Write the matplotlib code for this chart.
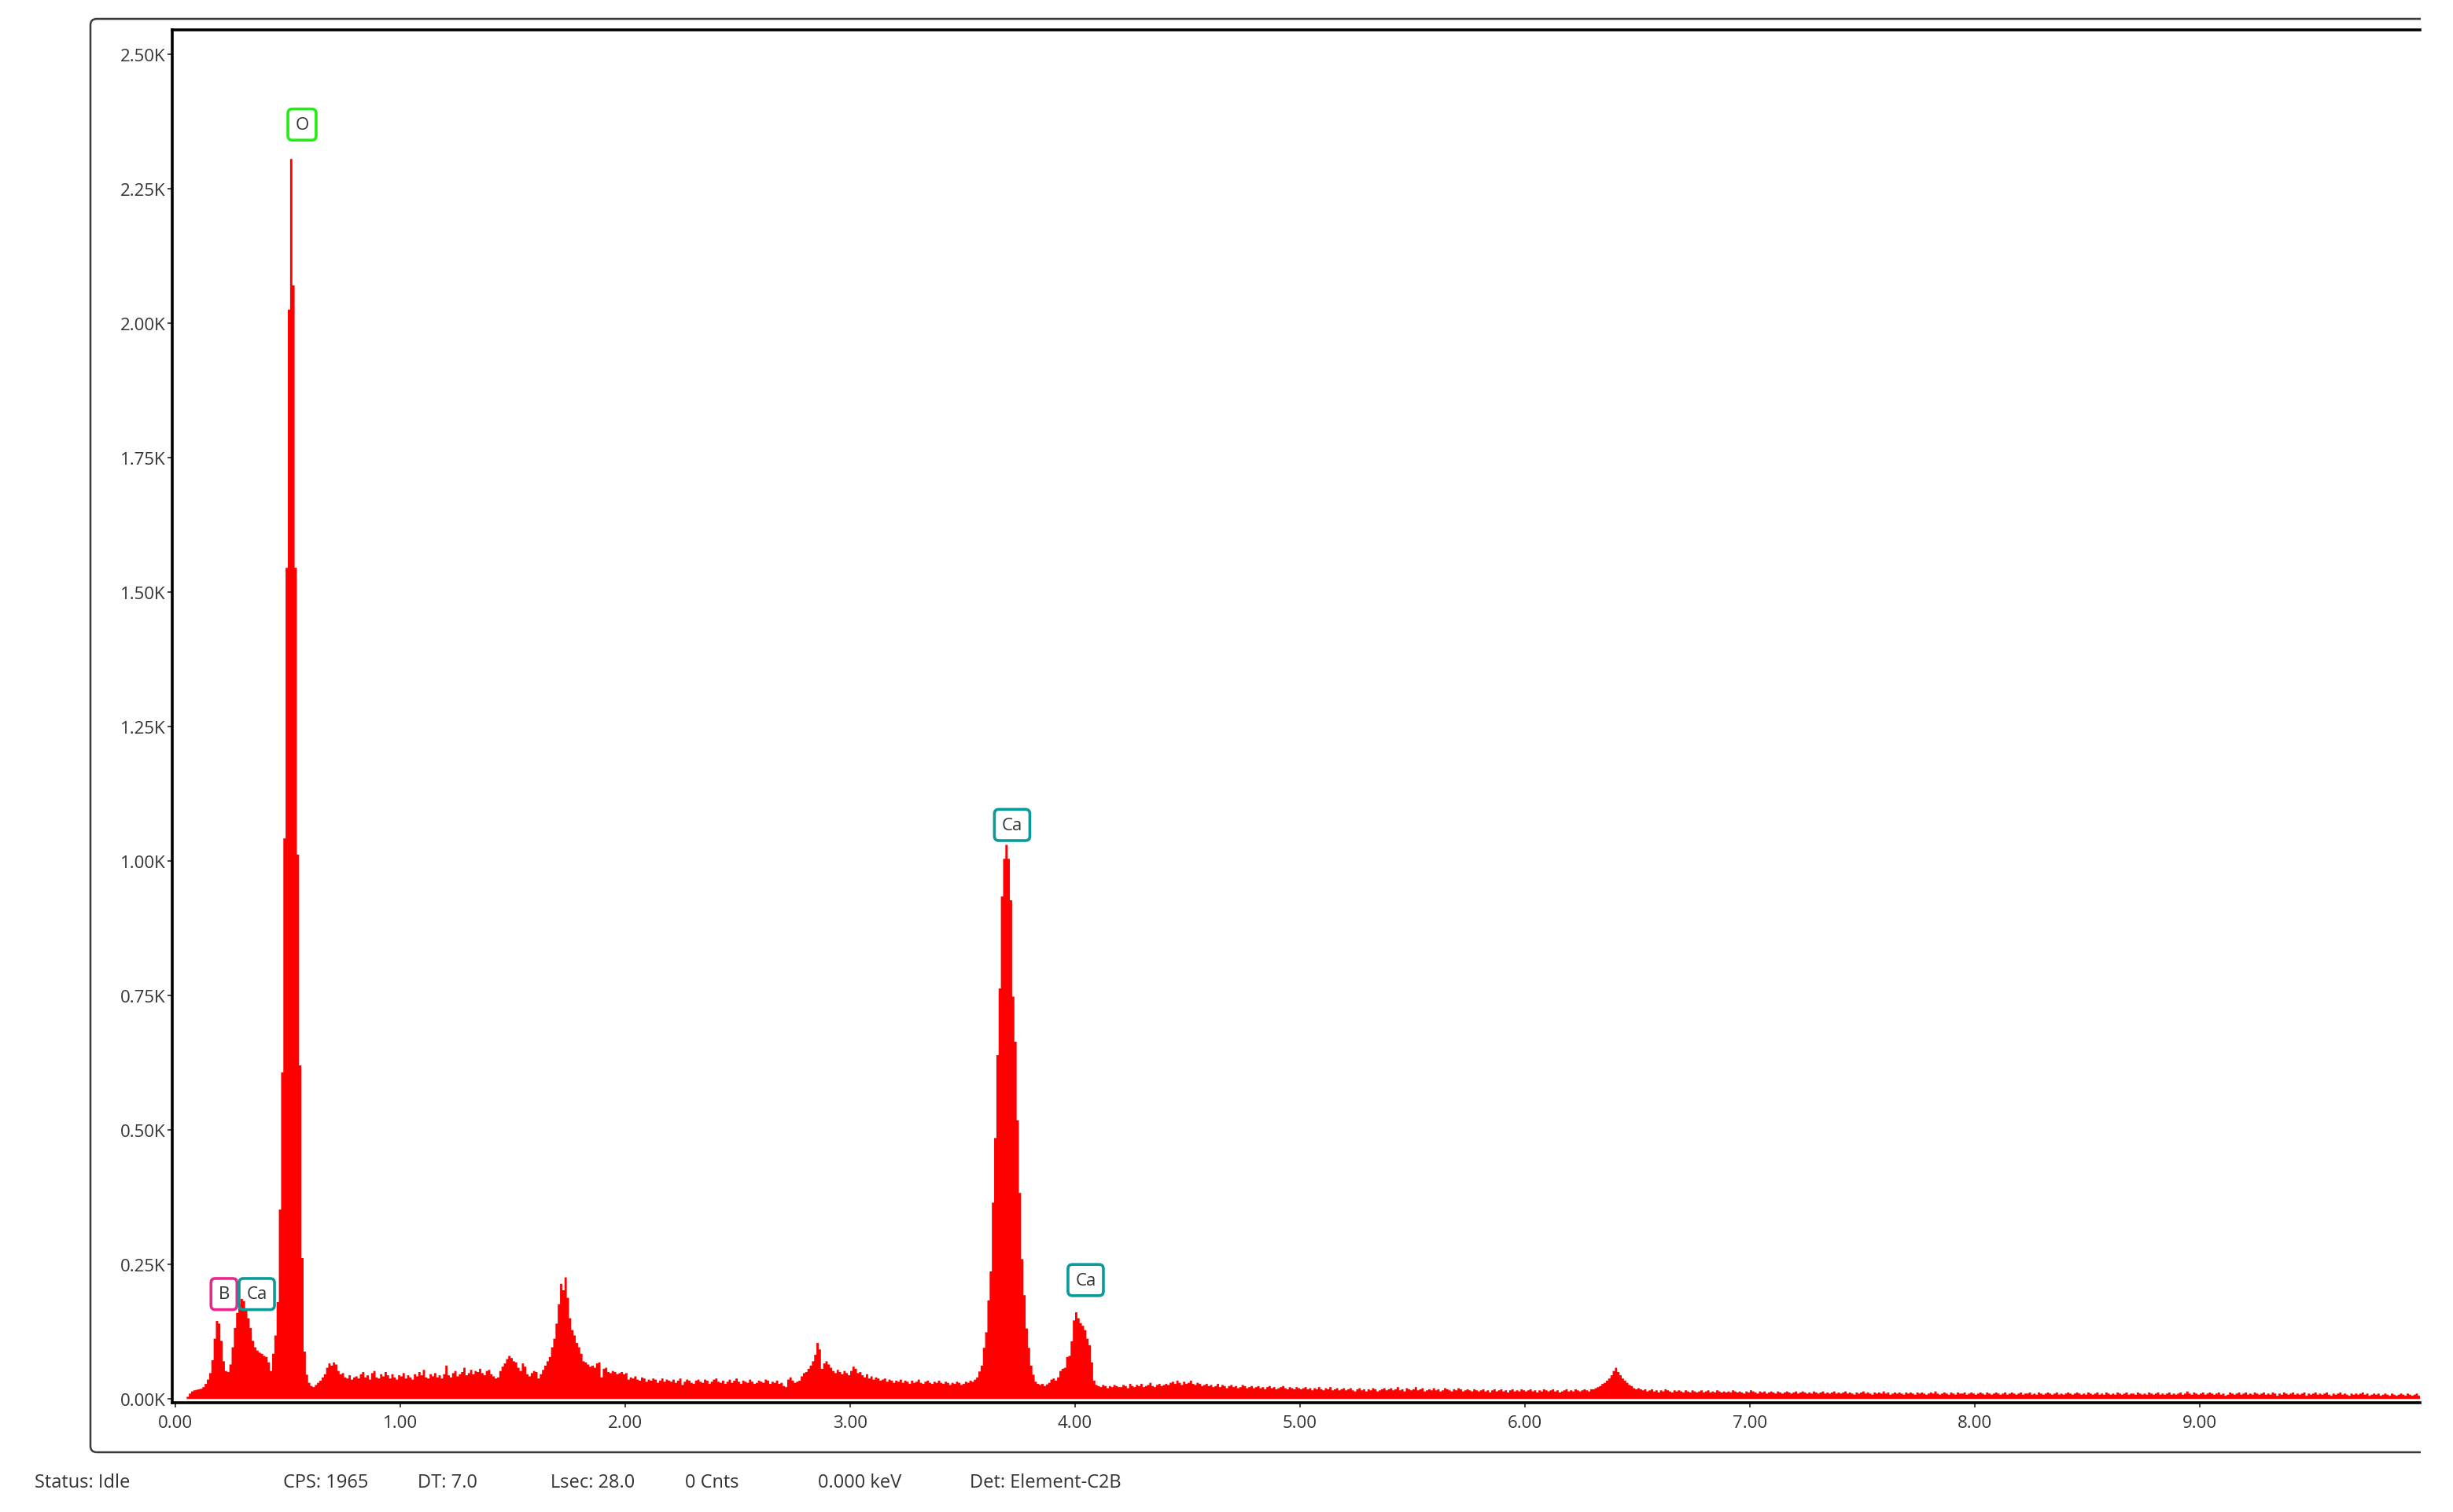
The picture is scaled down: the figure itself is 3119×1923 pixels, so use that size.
#Importing needed libraries
import numpy as np
import matplotlib.pyplot as plt
from matplotlib.patches import FancyBboxPatch, Rectangle
from matplotlib.ticker import FuncFormatter

plt.rcParams['font.family'] = ['Open Sans', 'DejaVu Sans']

#EDS spectrum, counts per 10 eV channel (channel i covers i*0.01 .. (i+1)*0.01 keV)
channel_kev = 0.01
counts_0_2 = [
    0, 0, 0, 0, 0, 4, 10, 14, 16, 17, 18, 19, 22, 28, 36, 48, 72, 112, 145, 140,
    108, 70, 52, 50, 64, 96, 132, 160, 176, 186, 182, 168, 150, 132, 108, 96, 90, 86, 84, 80,
    78, 68, 52, 84, 118, 180, 352, 607, 1042, 1545, 2025, 2305, 2070, 1545, 1012, 620, 262, 88, 45, 30,
    24, 22, 26, 30, 34, 40, 46, 58, 66, 62, 68, 64, 52, 46, 48, 40, 38, 44, 36, 40,
    42, 38, 46, 50, 40, 44, 36, 48, 52, 40, 38, 46, 42, 50, 44, 38, 46, 40, 36, 44,
    42, 48, 38, 44, 40, 36, 46, 42, 50, 44, 54, 40, 38, 46, 42, 48, 40, 44, 38, 46,
    62, 44, 40, 48, 52, 42, 46, 50, 58, 44, 48, 54, 46, 52, 50, 56, 48, 44, 52, 54,
    46, 42, 38, 40, 52, 60, 66, 74, 80, 76, 70, 68, 58, 52, 66, 60, 46, 42, 48, 52,
    50, 38, 46, 54, 62, 70, 78, 96, 112, 140, 176, 214, 202, 226, 188, 150, 128, 118, 104, 96,
    84, 70, 68, 64, 60, 62, 58, 66, 68, 40, 56, 58, 50, 48, 52, 50, 46, 48, 50, 46,
]
counts_2_4 = [
    48, 36, 40, 38, 42, 36, 34, 40, 38, 32, 36, 34, 38, 36, 30, 34, 38, 32, 36, 34,
    32, 36, 30, 34, 38, 26, 32, 36, 34, 30, 28, 34, 36, 32, 30, 36, 34, 28, 32, 36,
    38, 32, 30, 34, 28, 32, 36, 30, 34, 38, 32, 28, 34, 32, 30, 36, 32, 28, 30, 34,
    32, 30, 36, 34, 28, 32, 30, 34, 28, 30, 24, 22, 36, 40, 34, 30, 32, 34, 42, 48,
    50, 56, 62, 70, 82, 104, 92, 56, 66, 70, 64, 58, 52, 48, 54, 50, 46, 52, 48, 44,
    52, 60, 56, 48, 50, 44, 40, 46, 38, 42, 36, 40, 38, 34, 36, 38, 32, 36, 34, 30,
    34, 32, 36, 30, 34, 32, 28, 34, 30, 32, 36, 30, 28, 32, 34, 30, 28, 32, 30, 34,
    30, 28, 32, 30, 26, 30, 28, 32, 30, 26, 28, 32, 30, 34, 32, 36, 40, 51, 62, 95,
    124, 183, 237, 365, 485, 639, 763, 934, 1004, 1030, 1004, 927, 748, 664, 518, 383, 260, 193, 131, 95,
    62, 45, 32, 28, 26, 28, 24, 27, 30, 36, 38, 34, 40, 52, 56, 58, 78, 80, 107, 146,
]
counts_4_6 = [
    161, 150, 141, 136, 128, 112, 100, 68, 34, 26, 24, 22, 26, 24, 20, 24, 22, 26, 24, 22,
    22, 26, 24, 20, 28, 24, 22, 26, 24, 28, 22, 24, 26, 30, 24, 22, 26, 28, 24, 26,
    28, 26, 30, 32, 28, 34, 30, 26, 32, 28, 30, 34, 28, 26, 30, 28, 24, 26, 28, 24,
    26, 22, 24, 28, 22, 26, 24, 20, 24, 26, 22, 24, 20, 22, 26, 24, 20, 22, 24, 20,
    22, 24, 20, 22, 18, 22, 24, 20, 22, 18, 20, 22, 24, 20, 18, 22, 20, 18, 22, 20,
    18, 20, 22, 18, 20, 16, 20, 18, 22, 18, 16, 20, 18, 22, 16, 18, 20, 16, 18, 20,
    16, 18, 20, 16, 14, 18, 20, 16, 18, 14, 18, 16, 20, 18, 14, 16, 18, 20, 16, 18,
    20, 16, 18, 22, 16, 18, 14, 20, 18, 16, 18, 22, 16, 18, 20, 14, 16, 18, 16, 20,
    16, 18, 14, 16, 20, 18, 16, 14, 18, 16, 20, 18, 14, 16, 18, 16, 14, 18, 16, 14,
    16, 18, 14, 16, 12, 16, 18, 14, 16, 18, 14, 16, 12, 16, 18, 14, 16, 14, 18, 16,
]
counts_6_8 = [
    14, 16, 18, 14, 16, 12, 16, 14, 18, 16, 14, 16, 18, 14, 16, 12, 14, 16, 18, 14,
    16, 14, 18, 16, 14, 16, 18, 16, 14, 18, 18, 20, 22, 24, 28, 30, 34, 38, 44, 52,
    58, 50, 44, 38, 34, 30, 26, 24, 20, 18, 20, 18, 16, 18, 14, 16, 18, 14, 16, 12,
    16, 14, 18, 16, 14, 12, 16, 14, 16, 14, 12, 16, 14, 12, 16, 14, 12, 14, 16, 12,
    14, 16, 12, 14, 12, 16, 14, 12, 14, 12, 14, 12, 16, 14, 12, 14, 12, 10, 14, 12,
    16, 14, 12, 10, 14, 12, 14, 10, 12, 14, 12, 10, 14, 12, 10, 12, 14, 12, 10, 12,
    14, 10, 12, 14, 12, 10, 12, 10, 14, 12, 10, 12, 14, 10, 12, 10, 12, 14, 10, 12,
    10, 12, 14, 10, 12, 10, 8, 12, 10, 12, 14, 10, 12, 10, 8, 12, 10, 12, 10, 14,
    10, 12, 8, 10, 12, 10, 12, 10, 8, 12, 10, 12, 10, 8, 12, 10, 12, 10, 8, 10,
    12, 10, 14, 10, 8, 10, 12, 10, 8, 12, 10, 8, 12, 10, 10, 12, 8, 10, 12, 10,
]
counts_8_10 = [
    8, 10, 12, 10, 8, 12, 10, 8, 10, 12, 10, 8, 10, 12, 8, 10, 12, 10, 8, 10,
    12, 8, 10, 10, 12, 8, 10, 8, 12, 10, 8, 10, 12, 10, 8, 10, 12, 8, 10, 8,
    10, 12, 10, 8, 10, 12, 10, 8, 10, 8, 12, 10, 8, 10, 12, 8, 10, 8, 12, 10,
    8, 10, 8, 12, 10, 8, 10, 12, 8, 10, 10, 8, 12, 10, 8, 10, 8, 12, 10, 8,
    10, 12, 8, 10, 8, 10, 12, 8, 10, 8, 10, 12, 8, 10, 14, 10, 8, 12, 10, 8,
    10, 12, 8, 10, 12, 10, 8, 10, 12, 8, 10, 6, 8, 12, 10, 8, 10, 12, 8, 10,
    12, 8, 10, 8, 12, 10, 8, 10, 12, 8, 10, 8, 12, 10, 6, 10, 8, 12, 10, 8,
    10, 12, 8, 10, 8, 10, 12, 6, 10, 8, 10, 12, 8, 10, 8, 10, 12, 8, 6, 10,
    8, 10, 12, 8, 10, 8, 6, 10, 8, 10, 8, 10, 12, 8, 10, 6, 8, 10, 8, 10,
    6, 8, 10, 8, 6, 10, 8, 6, 8, 10, 8, 6, 10, 8, 6, 8, 10, 6, 8, 8,
]

#Element labels (keV, counts where the box sits)
label_text = ['O', 'B', 'Ca', 'Ca', 'Ca']
label_kev = [0.563, 0.216, 0.362, 3.72, 4.047]
label_cnt = [2369, 195, 195, 1067, 221]
label_color = ['#22ee11', '#e8288c', '#0a9a9a', '#0a9a9a', '#0a9a9a']

#x and y ticks
x_ticks = [0, 1, 2, 3, 4, 5, 6, 7, 8, 9]
y_ticks = [0, 250, 500, 750, 1000, 1250, 1500, 1750, 2000, 2250, 2500]

#Status bar
status_text = ['Status: Idle', 'CPS: 1965', 'DT: 7.0', 'Lsec: 28.0', '0 Cnts', '0.000 keV', 'Det: Element-C2B']
status_x = [44, 360, 531, 700, 871, 1040, 1233]

counts = np.array(counts_0_2 + counts_2_4 + counts_4_6 + counts_6_8 + counts_8_10)
edges = np.arange(len(counts) + 1) * channel_kev

W, H, DPI = 3119, 1924, 200
fig = plt.figure(figsize=(W / DPI, H / DPI), dpi=DPI)
ax = fig.add_axes([219 / W, 1 - 1785 / H, (3077 - 219) / W, (1785 - 39) / H])

#Spectrum
ax.stairs(counts, edges, fill=True, color='#ff0000', linewidth=0)

ax.set_xlim(-0.014, 9.979)
ax.set_ylim(-7, 2545)
ax.set_xticks(x_ticks)
ax.set_yticks(y_ticks)
ax.xaxis.set_major_formatter(FuncFormatter(lambda v, p: '%.2f' % v))
ax.yaxis.set_major_formatter(FuncFormatter(lambda v, p: '%.2fK' % (v / 1000)))
ax.tick_params(direction='out', length=2, width=0.7, color='#444444',
               labelsize=8, labelcolor='#333333')
ax.tick_params(axis='y', pad=1)
ax.tick_params(axis='x', pad=3.5)

for s in ['left', 'bottom', 'top']:
    ax.spines[s].set_linewidth(1.3)
    ax.spines[s].set_color('black')
ax.spines['right'].set_visible(False)

#Element label boxes
for t, e, c, col in zip(label_text, label_kev, label_cnt, label_color):
    ax.text(e, c, t, ha='center', va='center', fontsize=8, color='#333333',
            bbox=dict(boxstyle='round,pad=0.42,rounding_size=0.25', fc='none', ec=col, lw=1.3))

#Outer frame, cut at the right side like the screenshot
frame = FancyBboxPatch((115 / DPI, (H - 1848) / DPI), (3300 - 115) / DPI, (1848 - 25) / DPI,
                       boxstyle='round,pad=0,rounding_size=0.04',
                       transform=fig.dpi_scale_trans, fill=False, ec='#3a3a3a', lw=0.9)
clip = Rectangle((0, 0), 3078 / DPI, H / DPI, transform=fig.dpi_scale_trans)
frame.set_clip_path(clip)
fig.add_artist(frame)

#Status bar text
for t, x in zip(status_text, status_x):
    fig.text(x / W, 1 - 1886 / H, t, ha='left', va='center', fontsize=8.5, color='#333333')

fig.savefig('out.png', dpi=DPI)
